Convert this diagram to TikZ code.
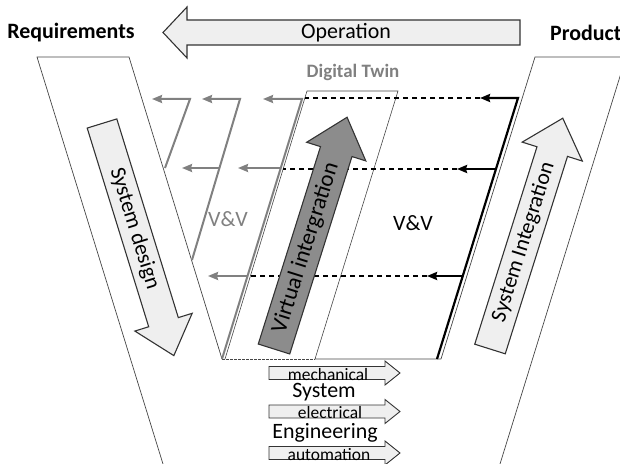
\documentclass[tikz,border=0pt]{standalone}
\usepackage{fontspec}
\setmainfont{Carlito}
\usepackage{tikz}
\usetikzlibrary{arrows.meta, calc}
\definecolor{arrowfill}{RGB}{239, 239, 239}
\definecolor{virtfill}{RGB}{140, 140, 140}
\definecolor{vvgray}{RGB}{128, 128, 128}
\definecolor{linegray}{RGB}{70, 70, 70}

\begin{document}
\begin{tikzpicture}[
  x=1bp,
  y=-1bp,
  every node/.style={inner sep=0pt},
  txtbig/.style={font=\fontsize{22}{26}\selectfont},
  txtsmall/.style={font=\fontsize{17.5}{20}\selectfont},
  band/.style={draw=linegray, line width=0.7bp},
  blockarrow/.style={draw=black!80, line width=1.1bp, fill=arrowfill},
  grayvv/.style={draw=vvgray, line width=2bp},
  blackvv/.style={draw=black, line width=2.2bp},
  dashback/.style={draw=black, line width=1.1bp, dash pattern=on 5.5bp off 3.5bp},
  >={Stealth[length=10bp, width=8bp, inset=1bp]}
]

\useasboundingbox (0,0) rectangle (620,464);

% the V
\draw[band] (163,464) -- (37,57) -- (129,57) -- (222,359);
\draw[band] (441,359) -- (535,57) -- (626,57) -- (500,464);

% digital twin
\coordinate (dtbl) at (225,359);
\coordinate (dttl) at (307,91);
\coordinate (dttr) at (398,91);
\coordinate (dtbr) at (315,359);
\coordinate (vbot) at (441,359);
\draw[band, line width=0.6bp] (dtbl) -- (dttl) -- (dttr) -- (dtbr) -- (vbot);
\draw[band, line width=0.6bp, dash pattern=on 2.5bp off 1.5bp] (222,359) -- (dtbr);

% operation
\draw[blockarrow] (520,20) -- (187,20) -- (187,7) -- (163,32.5) -- (187,58)
  -- (187,45) -- (520,45) -- cycle;
\node[txtbig] (oper) at (346,33) {Operation};
\node[font=\fontsize{22}{26}\selectfont\bfseries] (req) at (71,33) {Requirements};
\node[font=\fontsize{22}{26}\selectfont\bfseries, anchor=west] (prod) at (550,33) {Product};
\node[font=\fontsize{19}{23}\selectfont\bfseries, text=vvgray] (dtwin) at (353,72) {Digital Twin};

% gray V&V (virtual)
\coordinate (g1b) at (165,168);
\coordinate (g1t) at (190,99);
\coordinate (g1a) at (152,99);
\coordinate (g2b) at (192,260);
\coordinate (g2t) at (240,99);
\coordinate (g2a) at (202,99);
\coordinate (g2m) at (219,168);
\coordinate (g2n) at (182,168);
\coordinate (g3b) at (222,359);
\coordinate (g3t) at (302,99);
\coordinate (g3a) at (263,99);
\coordinate (g3m) at (281,168);
\coordinate (g3n) at (238,168);
\coordinate (g3p) at (247,276);
\coordinate (g3q) at (208,276);

\draw[grayvv, ->] (g1b) -- (g1t) -- (g1a);
\draw[grayvv, ->] (g2b) -- (g2t) -- (g2a);
\draw[grayvv, ->] (g3b) -- (g3t) -- (g3a);
\draw[grayvv, ->] (g2m) -- (g2n);
\draw[grayvv, ->] (g3m) -- (g3n);
\draw[grayvv, ->] (g3p) -- (g3q);
\node[txtbig, text=vvgray] (vvvirt) at (228,219) {V\&V};

% black V&V (real)
\coordinate (btop) at (518,98);
\coordinate (bbot) at (437,359);
\coordinate (b2) at (496,169);
\coordinate (b3) at (463,276);
\coordinate (r1h) at (480,98);
\coordinate (r2h) at (457,169);
\coordinate (r3h) at (427,276);
\coordinate (r1e) at (305,98);
\coordinate (r2e) at (283,169);
\coordinate (r3e) at (250,276);

\draw[dashback] (r1h) -- (r1e);
\draw[dashback] (r2h) -- (r2e);
\draw[dashback] (r3h) -- (r3e);
\draw[blackvv, ->] (bbot) -- (btop) -- (r1h);
\draw[blackvv, ->] (b2) -- (r2h);
\draw[blackvv, ->] (b3) -- (r3h);
\node[txtbig] (vvreal) at (413,223) {V\&V};

% system design
\begin{scope}[shift={(102,123.5)}, rotate=-72.8]
  \draw[blockarrow] (0,-15.5) -- (208,-15.5) -- (208,-30) -- (243,0) -- (208,30)
    -- (208,15.5) -- (0,15.5) -- cycle;
  \node[txtbig, rotate=-72.8] (design) at (110,0) {System design};
\end{scope}

% virtual integration
\begin{scope}[shift={(274,349)}, rotate=72.5]
  \draw[blockarrow, fill=virtfill] (0,-16.5) -- (207,-16.5) -- (207,-31) -- (243,0)
    -- (207,31) -- (207,16.5) -- (0,16.5) -- cycle;
  \node[font=\fontsize{23}{27}\selectfont, rotate=72.5] (virt) at (106,0) {Virtual intergration};
\end{scope}

% system integration
\begin{scope}[shift={(490,349)}, rotate=72.5]
  \draw[blockarrow] (0,-16) -- (207,-16) -- (207,-31.5) -- (242,0) -- (207,31.5)
    -- (207,16) -- (0,16) -- cycle;
  \node[txtbig, rotate=72.5] (integ) at (112,0) {System Integration};
\end{scope}

% disciplines
\foreach \y in {373, 411.5, 453} {
  \draw[blockarrow, line width=0.9bp] (269,\y-6.5) -- (385,\y-6.5) -- (385,\y-12)
    -- (400,\y) -- (385,\y+12) -- (385,\y+6.5) -- (269,\y+6.5) -- cycle;
}
\node[txtsmall] (mech) at (328,375) {mechanical};
\node[txtsmall] (elec) at (330,413) {electrical};
\node[txtsmall] (auto) at (329,455) {automation};
\node[txtbig] (syst) at (324,392) {System};
\node[txtbig] (engi) at (325,433) {Engineering};

\end{tikzpicture}
\end{document}
